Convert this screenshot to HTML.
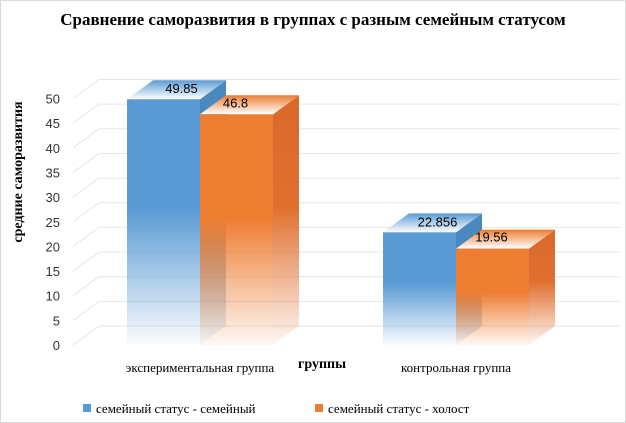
<!DOCTYPE html>
<html><head><meta charset="utf-8"><style>
body{margin:0;background:#fff}
svg{display:block}
</style></head><body>
<svg width="626" height="423" viewBox="0 0 626 423" xmlns="http://www.w3.org/2000/svg">
<defs>
<linearGradient id="gb" x1="0" y1="0" x2="0" y2="1"><stop offset="0" stop-color="#5b9bd5"/><stop offset="0.45" stop-color="#5b9bd5"/><stop offset="1" stop-color="#5b9bd5" stop-opacity="0.03"/></linearGradient>
<linearGradient id="go" x1="0" y1="0" x2="0" y2="1"><stop offset="0" stop-color="#ed7d31"/><stop offset="0.45" stop-color="#ed7d31"/><stop offset="1" stop-color="#ed7d31" stop-opacity="0.05"/></linearGradient>
<linearGradient id="gbs" x1="0" y1="0" x2="0" y2="1"><stop offset="0" stop-color="#4a88c0"/><stop offset="0.45" stop-color="#4a88c0"/><stop offset="1" stop-color="#4a88c0" stop-opacity="0.03"/></linearGradient>
<linearGradient id="gos" x1="0" y1="0" x2="0" y2="1"><stop offset="0" stop-color="#d9692a"/><stop offset="0.45" stop-color="#e07030"/><stop offset="1" stop-color="#e07030" stop-opacity="0.05"/></linearGradient>
<linearGradient id="gbt" x1="0" y1="0" x2="0" y2="1"><stop offset="0" stop-color="#5b9bd5"/><stop offset="1" stop-color="#ffffff"/></linearGradient>
<linearGradient id="got" x1="0" y1="0" x2="0" y2="1"><stop offset="0" stop-color="#ed7d31"/><stop offset="1" stop-color="#ffffff"/></linearGradient>
</defs>
<rect x="0.5" y="0.5" width="625" height="422" fill="#fff" stroke="#d9d9d9"/>
<text x="313" y="25" text-anchor="middle" font-family="Liberation Serif, serif" font-weight="bold" font-size="17">Сравнение саморазвития в группах с разным семейным статусом</text>
<text transform="translate(22,172) rotate(-90)" text-anchor="middle" font-family="Liberation Serif, serif" font-weight="bold" font-size="14">средние саморазвития</text>
<g id="grid"></g>
<g id="bars"></g>
<g id="labels"></g>
<text x="322" y="368" text-anchor="middle" font-family="Liberation Serif, serif" font-weight="bold" font-size="14">группы</text>
<rect x="83" y="404" width="8" height="8" fill="#5b9bd5"/>
<text x="96" y="413" font-family="Liberation Serif, serif" font-size="13">семейный статус - семейный</text>
<rect x="315" y="404" width="8" height="8" fill="#ed7d31"/>
<text x="328" y="413" font-family="Liberation Serif, serif" font-size="13">семейный статус - холост</text>
</svg>
<script>
const categories=["экспериментальная группа","контрольная группа"];
const seriesMarried=[49.85,22.856];
const seriesSingle=[46.8,19.56];
const seriesLabelsMarried=["49.85","22.856"];
const seriesLabelsSingle=["46.8","19.56"];
const yTicks=[0,5,10,15,20,25,30,35,40,45,50];
const NS="http://www.w3.org/2000/svg";
const y0=345,k=4.93,dx=26,dy=-19;
const Y=v=>y0-v*k;
const catX=[127,383],bw=73;
function mk(t,a,p){const e=document.createElementNS(NS,t);for(const n in a)e.setAttribute(n,a[n]);(p||document.getElementById('bars')).appendChild(e);return e;}
const grid=document.getElementById('grid');
yTicks.forEach(v=>{
 const y=Y(v);
 const l=mk('polyline',{points:`73,${y} ${73+dx},${y+dy} 620,${y+dy}`,fill:'none',stroke:'#e6e6e6','stroke-width':1},grid);
 
 
 const t=mk('text',{x:60,y:y+5,'text-anchor':'end','font-family':'Liberation Sans, sans-serif','font-size':13,fill:'#333'},grid);
 t.textContent=v;
 
 
});
function bar(x,v,c,name){
 const yt=Y(v),g=document.getElementById('bars');
 const s=mk('polygon',{points:`${x+bw},${yt} ${x+bw+dx},${yt+dy} ${x+bw+dx},${y0+dy} ${x+bw},${y0}`,fill:`url(#g${c}s)`});
 
 
 const tp=mk('polygon',{points:`${x},${yt} ${x+dx},${yt+dy} ${x+bw+dx},${yt+dy} ${x+bw},${yt}`,fill:`url(#g${c}t)`});
 
 
 const f=mk('rect',{x:x,y:yt,width:bw,height:y0-yt,fill:`url(#g${c})`});
 
 
}
const lab=document.getElementById('labels');
categories.forEach((c,i)=>{
 bar(catX[i],seriesMarried[i],'b','bar-married-'+i);
 bar(catX[i]+bw,seriesSingle[i],'o','bar-single-'+i);
 const t1=mk('text',{x:catX[i]+dx+bw/2-8,y:Y(seriesMarried[i])+dy+13,'text-anchor':'middle','font-family':'Liberation Sans, sans-serif','font-size':13},lab);
 t1.textContent=seriesLabelsMarried[i];
 
 
 const t2=mk('text',{x:catX[i]+bw+dx+bw/2-27,y:Y(seriesSingle[i])+dy+12,'text-anchor':'middle','font-family':'Liberation Sans, sans-serif','font-size':13},lab);
 t2.textContent=seriesLabelsSingle[i];
 
 
 const ct=mk('text',{x:catX[i]+bw,y:372,'text-anchor':'middle','font-family':'Liberation Serif, serif','font-size':13},lab);
 ct.textContent=c;
 
 
});
</script>
</body></html>
